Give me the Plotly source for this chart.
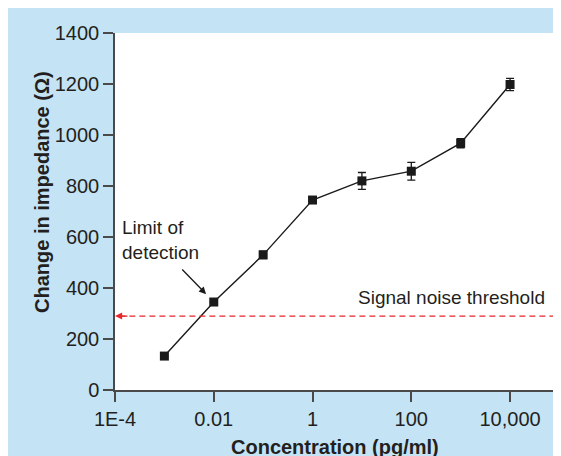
import plotly.graph_objects as go
import math

# Data
concentration = [0.001, 0.01, 0.1, 1, 10, 100, 1000, 10000]
impedance = [133, 345, 530, 745, 820, 858, 968, 1198]
impedance_err = [0, 0, 15, 0, 33, 35, 18, 24]
threshold = 290
x_tickvals = [1e-4, 1e-2, 1, 100, 1e4]
x_ticktext = ["1E-4", "0.01", "1", "100", "10,000"]
y_tickvals = [0, 200, 400, 600, 800, 1000, 1200, 1400]
lod_conc = 0.01
lod_imp = 345

BLUE = "#c4e4f5"
TXT = "#231f20"
AX = "#4a4a4a"
FONT = "Liberation Sans, Arial, Helvetica, sans-serif"

fig = go.Figure()
fig.add_trace(go.Scatter(
    x=concentration, y=impedance, mode="lines+markers",
    line=dict(color="#1a1a1a", width=1.4),
    marker=dict(symbol="square", size=9, color="#1a1a1a"),
    error_y=dict(type="data", array=impedance_err, visible=True,
                 color="#1a1a1a", thickness=1.3, width=4),
    showlegend=False,
))

fig.add_shape(type="line", xref="paper", yref="y", x0=0.01, x1=1,
              y0=threshold, y1=threshold,
              line=dict(color="#e8262d", width=1.3, dash="6px,4px"))

annotations = [
    dict(x=0, xref="paper", y=threshold, yref="y", ax=14, ay=0, text="",
         showarrow=True, arrowhead=2, arrowsize=1.1, arrowwidth=1.3,
         arrowcolor="#e8262d", standoff=0),
    dict(x=0.982, xref="paper", y=361, yref="y", xanchor="right", yanchor="middle",
         text="Signal noise threshold", showarrow=False,
         font=dict(size=19, color=TXT, family=FONT)),
    dict(x=0.012, xref="paper", y=588, yref="y", xanchor="left", yanchor="middle",
         align="left", text="Limit of<br>detection", showarrow=False,
         font=dict(size=19, color=TXT, family=FONT)),
    dict(x=math.log10(lod_conc), y=lod_imp, xref="x", yref="y", ax=-33, ay=-34,
         text="", showarrow=True, arrowhead=2, arrowsize=1.1, arrowwidth=1.3,
         arrowcolor="#1a1a1a", standoff=11),
    # axis titles
    dict(x=-0.166, xref="paper", y=0.5546, yref="paper", xanchor="center", yanchor="middle",
         textangle=-90, text="<b>Change in impedance (Ω)</b>", showarrow=False,
         font=dict(size=20, color=TXT, family=FONT)),
    dict(x=0.5, xref="paper", y=-0.124, yref="paper", xanchor="center", yanchor="top",
         text="<b>Concentration (pg/ml)</b>", showarrow=False,
         font=dict(size=20, color=TXT, family=FONT)),
]

fig.update_layout(
    width=561, height=456,
    margin=dict(l=107, r=14, t=25, b=74),
    paper_bgcolor=BLUE, plot_bgcolor="white",
    font=dict(family=FONT, color=TXT, size=20),
    annotations=annotations,
    xaxis=dict(type="log", range=[-4, 4.91], tickvals=x_tickvals, ticktext=x_ticktext,
               automargin=False,
               showgrid=False, zeroline=False, showline=True, linecolor=AX, linewidth=1.5,
               ticks="outside", ticklen=10, tickwidth=1.5, tickcolor=AX,
               tickfont=dict(size=20, color=TXT)),
    yaxis=dict(range=[0, 1400], tickvals=y_tickvals, automargin=False,
               showgrid=False, zeroline=False, showline=True, linecolor=AX, linewidth=1.5,
               ticks="outside", ticklen=10, tickwidth=1.5, tickcolor=AX,
               tickfont=dict(size=20, color=TXT)),
)

fig.write_html("out.html")
